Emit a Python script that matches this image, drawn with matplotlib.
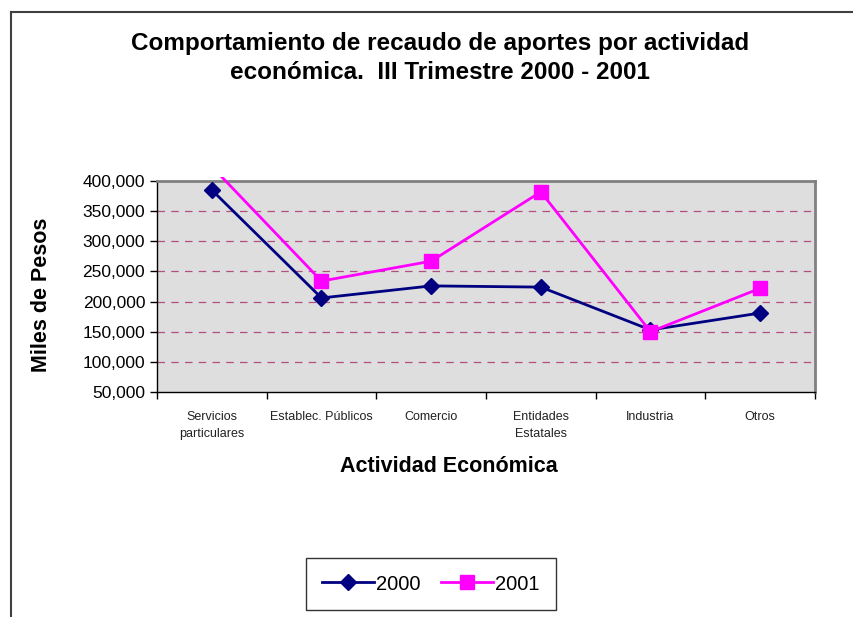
import matplotlib
matplotlib.use("Agg")
import matplotlib.pyplot as plt
import numpy as np
from matplotlib.lines import Line2D
from matplotlib.patches import Rectangle
from matplotlib.ticker import FuncFormatter

plt.rcParams['font.family'] = ['Liberation Sans', 'DejaVu Sans']

# datos (miles de pesos)
actividades = ["Servicios\nparticulares", "Establec. Públicos", "Comercio",
               "Entidades\nEstatales", "Industria", "Otros"]
serie_2000 = [385000, 206000, 226000, 224000, 153000, 181000]
serie_2001 = [424000, 234000, 267000, 382000, 150000, 222000]
anios = ["2000", "2001"]

fig = plt.figure(figsize=(8.54, 6.17), dpi=100)
ax = fig.add_axes([157 / 854, 1 - 392 / 617, (815 - 157) / 854, (392 - 181) / 617])
ax.set_facecolor('#dedede')

x = np.arange(len(actividades))

for yv in range(100000, 400000, 50000):
    ax.axhline(yv, color='#b0507f', lw=0.9, dashes=(6, 5), zorder=1)

l1, = ax.plot(x, serie_2000, color='#000080', lw=2, marker='D', markersize=8,
              label=anios[0], zorder=3)
l2, = ax.plot(x, serie_2001, color='#ff00ff', lw=2, marker='s', markersize=10.5,
              label=anios[1], zorder=4)
l2.set_clip_path(Rectangle((0, 0), 1, 1.02, transform=ax.transAxes))

ax.set_xlim(-0.5, len(actividades) - 0.5)
ax.set_ylim(50000, 400000)
ax.set_yticks(range(50000, 400001, 50000))
ax.yaxis.set_major_formatter(FuncFormatter(lambda v, p: f"{int(v):,}"))
ax.tick_params(axis='y', labelsize=12.5, length=5, width=1, direction='out')

ax.set_xticks(x)
ax.set_xticklabels(actividades, fontsize=9, color='#222222', linespacing=1.5)
ax.set_xticks(np.arange(-0.5, len(actividades)), minor=True)
ax.tick_params(axis='x', which='major', length=0, pad=14)
ax.tick_params(axis='x', which='minor', length=5, width=1, direction='out')

for s in ['top', 'right']:
    ax.spines[s].set_color('#808080')
    ax.spines[s].set_linewidth(2)
for s in ['left', 'bottom']:
    ax.spines[s].set_color('black')
    ax.spines[s].set_linewidth(1)

fig.text(440 / 854, 1 - 58 / 617, "Comportamiento de recaudo de aportes por actividad\neconómica.  III Trimestre 2000 - 2001",
         ha='center', va='center', fontsize=17.5, fontweight='bold', linespacing=1.35)
fig.text(42 / 854, 1 - 295 / 617, "Miles de Pesos", rotation=90, ha='center', va='center',
         fontsize=15.5, fontweight='bold')
fig.text(449 / 854, 1 - 466 / 617, "Actividad Económica", ha='center', va='center',
         fontsize=15.5, fontweight='bold')

leg = fig.legend(handles=[l1, l2], loc='center', bbox_to_anchor=(431 / 854, 1 - 584 / 617),
                 ncol=2, fontsize=14.5, frameon=True, fancybox=False, handlelength=2.6,
                 columnspacing=1.0, handletextpad=0.1, borderpad=0.8, borderaxespad=0)
leg.get_frame().set_edgecolor('black')
leg.get_frame().set_linewidth(1)

# marco del area del grafico
fig.add_artist(Line2D([11 / 854, 1], [1 - 12 / 617] * 2, color='#404040', lw=1.5))
fig.add_artist(Line2D([11 / 854] * 2, [0, 1 - 12 / 617], color='#404040', lw=1.5))

fig.savefig("out.png", dpi=100)
